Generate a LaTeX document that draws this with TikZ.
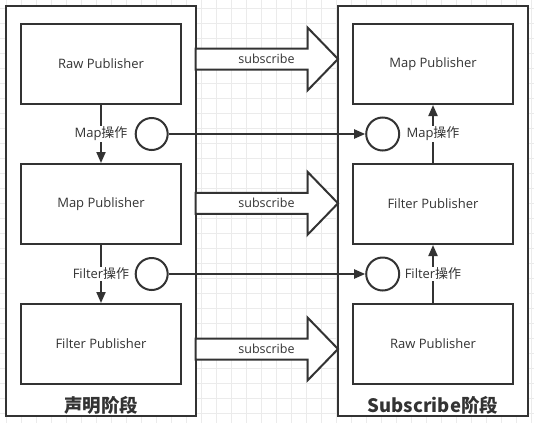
\documentclass[tikz,border=0pt]{standalone}
\usepackage{fontspec}
\setmainfont{Open Sans}
\newfontfamily\cjk{Noto Sans CJK SC}
\usetikzlibrary{arrows.meta}
\definecolor{ink}{HTML}{333333}
\definecolor{gridc}{HTML}{EBEBEB}
\tikzset{
  outerbox/.style={draw=ink, line width=2pt, fill=white, minimum width=190pt, minimum height=410pt, inner sep=0pt},
  pubbox/.style={draw=ink, line width=2pt, fill=white, minimum width=160pt, minimum height=80pt, font=\fontsize{13pt}{15pt}\selectfont, text=ink},
  opcircle/.style={draw=ink, line width=2pt, fill=white, circle, minimum size=32pt, inner sep=0pt},
  conn/.style={draw=ink, line width=2pt, -{Triangle[length=11pt,width=9pt]}},
  oplabel/.style={fill=white, inner sep=1pt, text=ink, font=\fontsize{13pt}{15pt}\selectfont},
  blockarr/.style={draw=ink, line width=2pt, fill=white, line join=miter},
  sublabel/.style={text=ink, font=\fontsize{12.5pt}{14pt}\selectfont, inner sep=0pt},
  phase/.style={text=ink, font=\cjk\bfseries\fontsize{18.5pt}{20pt}\selectfont, inner sep=0pt}
}
\begin{document}
\begin{tikzpicture}[x=1pt,y=-1pt]
\useasboundingbox (0,0) rectangle (534,423);
\fill[white] (0,0) rectangle (534,423);
% grid
\foreach \gx in {6,21,...,531} \draw[gridc, line width=0.8pt] (\gx,0) -- (\gx,423);
\foreach \gy in {8,23,...,420} \draw[gridc, line width=0.8pt] (0,\gy) -- (534,\gy);
% outer boxes
\node[outerbox] (L) at (100.5,211) {};
\node[outerbox] (R) at (433,211) {};
% publishers left
\node[pubbox] (LRaw) at (101,64) {Raw Publisher};
\node[pubbox] (LMap) at (101,204) {Map Publisher};
\node[pubbox] (LFil) at (101,344) {Filter Publisher};
% publishers right
\node[pubbox] (RMap) at (433,64) {Map Publisher};
\node[pubbox] (RFil) at (433,204) {Filter Publisher};
\node[pubbox] (RRaw) at (433,344) {Raw Publisher};
% circles
\node[opcircle] (LC1) at (151.7,134) {};
\node[opcircle] (LC2) at (151.7,274) {};
\node[opcircle, minimum size=33pt] (RC1) at (382.7,134) {};
\node[opcircle, minimum size=33pt] (RC2) at (382.7,274) {};
% vertical connectors
\draw[conn] (LRaw.south) -- node[oplabel] {Map{\cjk 操作}} (LMap.north);
\draw[conn] (LMap.south) -- node[oplabel] {Filter{\cjk 操作}} (LFil.north);
\draw[conn] (RFil.north) -- node[oplabel] {Map{\cjk 操作}} (RMap.south);
\draw[conn] (RRaw.north) -- node[oplabel] {Filter{\cjk 操作}} (RFil.south);
% horizontal connectors
\draw[conn] (LC1.east) -- (RC1.west);
\draw[conn] (LC2.east) -- (RC2.west);
% block arrows
\foreach \ay/\nm in {59/S1,203.3/S2,349/S3}{
  \draw[blockarr] (195.5,\ay) ++(0,-10.5) -- ++(112,0) -- ++(0,-21) -- (338,\ay) -- ++(-30.5,31.5) -- ++(0,-21) -- ++(-112,0) -- cycle;
  \node[sublabel] (\nm) at (266.5,\ay) {subscribe};
}
% phase labels
\node[phase] (P1) at (101,405) {声明阶段};
\node[phase] (P2) at (433,405) {Subscribe阶段};
\end{tikzpicture}
\end{document}
